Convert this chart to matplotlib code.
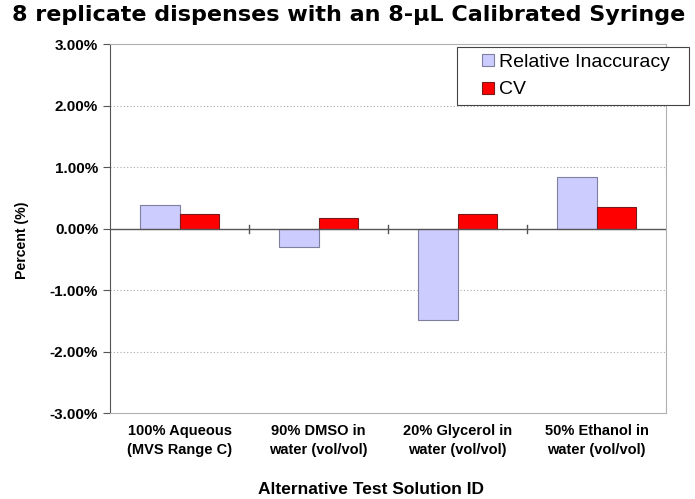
import numpy as np
from matplotlib import pyplot as plt
from matplotlib.patches import Rectangle
from matplotlib.container import BarContainer
from matplotlib.legend_handler import HandlerPatch, update_from_first_child
from matplotlib.ticker import FuncFormatter, FixedLocator

categories = ['100% Aqueous\n(MVS Range C)', '90% DMSO in\nwater (vol/vol)',
              '20% Glycerol in\nwater (vol/vol)', '50% Ethanol in\nwater (vol/vol)']
rel_inaccuracy = [0.39, -0.30, -1.48, 0.85]  # percent
cv = [0.24, 0.17, 0.24, 0.36]  # percent
y_ticks = [-3, -2, -1, 0, 1, 2, 3]

plt.rcParams['font.family'] = ['Liberation Sans', 'DejaVu Sans']


def square_patch(legend, orig_handle, xdescent, ydescent, width, height, fontsize):
    # small square pushed to the right end of the handle box
    s = 8.6
    return Rectangle((-xdescent + width - s, -ydescent + (height - s) / 2), s, s)


fig = plt.figure(figsize=(6.95, 4.99), dpi=100)
ax = fig.add_axes([0.1583, 0.1717, 0.80, 0.7395])

x = np.arange(len(categories))
w = 0.284
ax.bar(x - w / 2, rel_inaccuracy, w, color='#ccccff', edgecolor='#7f7f9f', linewidth=0.8,
       label='Relative Inaccuracy', zorder=3)
ax.bar(x + w / 2, cv, w, color='#ff0000', edgecolor='#7a1a1a', linewidth=0.8,
       label='CV', zorder=3)

ax.set_xlim(-0.5, len(categories) - 0.5)
ax.set_ylim(-3, 3)
ax.yaxis.set_major_locator(FixedLocator(y_ticks))
ax.yaxis.set_major_formatter(FuncFormatter(lambda v, _: f'{v:.2f}%'))
for v in y_ticks[1:-1]:
    if v != 0:
        ax.axhline(v, color='#aaaaaa', linestyle=(0, (1, 2)), linewidth=0.8, zorder=1)
ax.axhline(0, color='#555555', linewidth=1.0, zorder=4)

# category dividers on the zero line
for b in x[:-1] + 0.5:
    ax.plot([b, b], [-0.065, 0.065], color='#555555', linewidth=1.0, zorder=4)

ax.set_xticks(x)
ax.set_xticklabels(categories, fontsize=10.5, fontweight='bold', linespacing=1.45)
ax.tick_params(axis='x', length=0, pad=8)
ax.tick_params(axis='y', labelsize=11, length=5, direction='out', color='#555555')
for lbl in ax.get_yticklabels():
    lbl.set_fontweight('bold')

ax.spines['left'].set_color('#555555')
for s in ['top', 'right', 'bottom']:
    ax.spines[s].set_color('#b0b0b0')
    ax.spines[s].set_linewidth(0.8)

ax.set_ylabel('Percent (%)', fontsize=10.2, fontweight='bold')
ax.yaxis.set_label_coords(-0.145, 0.47)
ax.set_xlabel('Alternative Test Solution ID', fontsize=12.5, fontweight='bold')
ax.xaxis.set_label_coords(0.469, -0.185)

fig.suptitle('8 replicate dispenses with an 8-μL Calibrated Syringe', x=0.502, y=0.99,
             fontsize=16, fontweight='bold', family='DejaVu Sans')

leg_h = 0.05
leg = fig.legend(loc='upper left',
                 bbox_to_anchor=(457 / 695, 1 - 47.3 / 499 - leg_h, 232 / 695, leg_h),
                 mode='expand', fontsize=14, fancybox=False, framealpha=1, edgecolor='#444444',
                 handlelength=1.6, handletextpad=0.25, borderpad=0.32, labelspacing=0.5,
                 borderaxespad=0,
                 handler_map={BarContainer: HandlerPatch(patch_func=square_patch,
                                                         update_func=update_from_first_child)})
leg.get_frame().set_linewidth(0.8)

fig.savefig('out.png', dpi=100)
